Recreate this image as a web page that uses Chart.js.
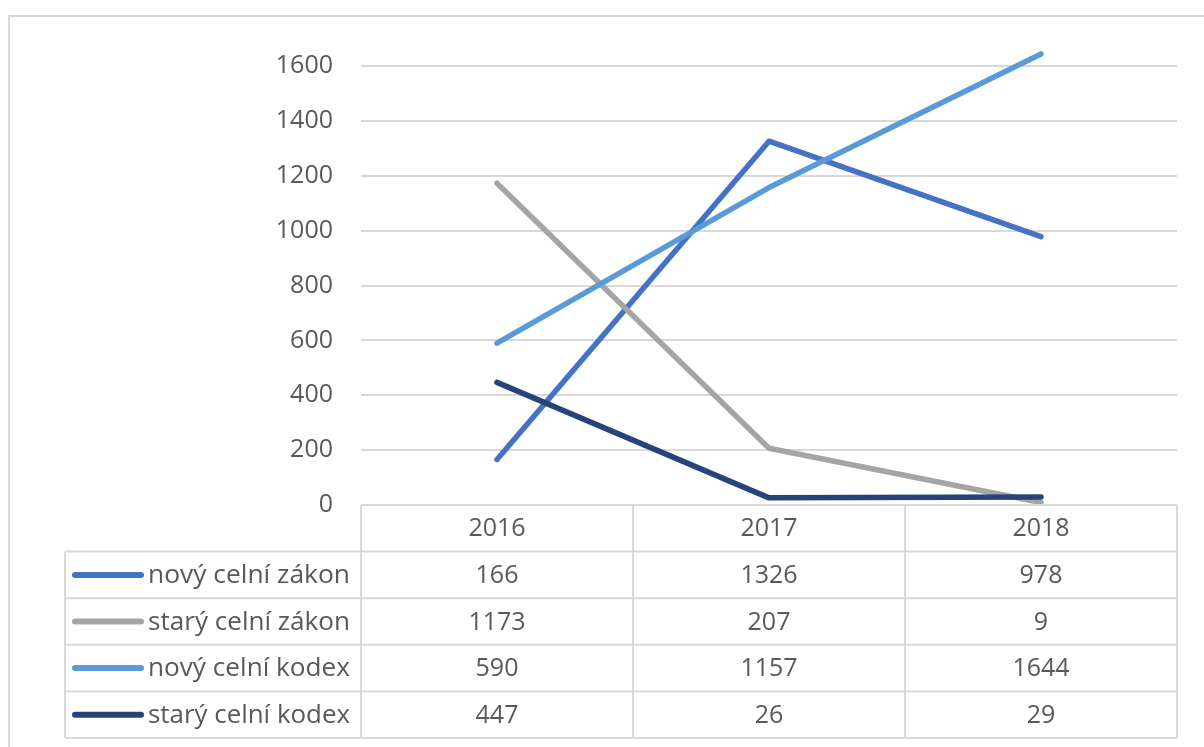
<!DOCTYPE html>
<html><head><meta charset="utf-8">
<script src="https://cdn.jsdelivr.net/npm/chart.js@4/dist/chart.umd.min.js"></script>
<style>html,body{margin:0;padding:0;background:#fff}#wrap{width:1204px;height:747px;position:relative}</style>
</head><body><div id="wrap"><canvas id="c" width="1204" height="747"></canvas></div>
<script>
const categories = ['2016', '2017', '2018'];
const seriesNames = ['nový celní zákon', 'starý celní zákon', 'nový celní kodex', 'starý celní kodex'];
const novyZakon = [166, 1326, 978];
const staryZakon = [1173, 207, 9];
const novyKodex = [590, 1157, 1644];
const staryKodex = [447, 26, 29];
const seriesValues = [novyZakon, staryZakon, novyKodex, staryKodex];
const seriesColors = ['#4472C4', '#A5A5A5', '#5B9BD5', '#264478'];
const yTicks = [0, 200, 400, 600, 800, 1000, 1200, 1400, 1600];

const FONT = '"Open Sans", sans-serif';
const TXT = '#595959';
const LINE = '#d9d9d9';

const tablePlugin = {
  id: 'dataTable',
  beforeDraw(chart) {
    const ctx = chart.ctx;
    ctx.save();
    ctx.strokeStyle = LINE; ctx.lineWidth = 2;
    ctx.beginPath();
    ctx.moveTo(9, 747); ctx.lineTo(9, 16); ctx.lineTo(1204, 16);
    ctx.stroke();
    ctx.restore();
  },
  afterDraw(chart) {
    const ctx = chart.ctx;
    const xs = chart.scales.x;
    const area = chart.chartArea;
    const n = categories.length;
    const colW = (area.right - area.left) / n;
    const top = area.bottom;
    const rowH = 46.6;
    const tableLeft = 65;
    ctx.save();
    ctx.strokeStyle = LINE; ctx.lineWidth = 2;
    ctx.beginPath();
    ctx.moveTo(area.left, top); ctx.lineTo(area.right, top);
    for (let r = 1; r <= seriesNames.length + 1; r++) {
      const y = top + r * rowH;
      ctx.moveTo(tableLeft, y); ctx.lineTo(area.right, y);
    }
    const bottom = top + (seriesNames.length + 1) * rowH;
    for (let i = 0; i <= n; i++) {
      const x = area.left + i * colW;
      ctx.moveTo(x, top); ctx.lineTo(x, bottom);
    }
    ctx.moveTo(tableLeft, top + rowH); ctx.lineTo(tableLeft, bottom);
    ctx.stroke();

    ctx.fillStyle = TXT;
    ctx.textAlign = 'center'; ctx.textBaseline = 'middle';
    ctx.font = '25px ' + FONT;
    categories.forEach((c, i) => {
      ctx.fillText(c, xs.getPixelForValue(i), top + rowH / 2 + 1);
    });
    seriesNames.forEach((name, s) => {
      const cy = top + (s + 1) * rowH + rowH / 2 + 1;
      ctx.strokeStyle = seriesColors[s]; ctx.lineWidth = 6; ctx.lineCap = 'round';
      ctx.beginPath(); ctx.moveTo(75, cy - 1); ctx.lineTo(141, cy - 1); ctx.stroke();
      ctx.textAlign = 'left';
      ctx.font = '25px ' + FONT;
      const w = ctx.measureText(name).width;
      const target = 202;
      ctx.save();
      ctx.translate(148, cy);
      ctx.scale(target / w, 1);
      ctx.fillText(name, 0, 0);
      ctx.restore();
      ctx.textAlign = 'center';
      seriesValues[s].forEach((v, i) => {
        ctx.fillText(String(v), xs.getPixelForValue(i), cy);
      });
    });
    ctx.restore();
  }
};

new Chart(document.getElementById('c'), {
  type: 'line',
  data: {
    labels: categories,
    datasets: seriesNames.map((name, s) => ({
      label: name,
      data: seriesValues[s],
      borderColor: seriesColors[s],
      backgroundColor: seriesColors[s],
      borderWidth: 5.5,
      borderCapStyle: 'round',
      borderJoinStyle: 'round',
      pointRadius: 0,
      tension: 0,
      clip: false,
      order: 10 - s
    }))
  },
  options: {
    responsive: false,
    animation: false,
    devicePixelRatio: 1,
    layout: { padding: { top: 66, right: 27, left: 0, bottom: 0 } },
    plugins: { legend: { display: false }, tooltip: { enabled: false } },
    scales: {
      x: {
        type: 'category',
        offset: true,
        grid: { display: false, drawTicks: false },
        border: { display: false },
        ticks: { display: false },
        afterFit(scale) { scale.height = 747 - 505; }
      },
      y: {
        min: 0, max: 1600,
        afterBuildTicks(scale) { scale.ticks = yTicks.map(v => ({ value: v })); },
        grid: { color: LINE, lineWidth: 2, drawTicks: false },
        border: { display: false },
        ticks: { color: TXT, font: { family: '"Open Sans", sans-serif', size: 25 }, padding: 28,
          callback: (v) => String(v) },
        afterFit(scale) { scale.width = 361; }
      }
    }
  },
  plugins: [tablePlugin]
});
</script>
</body></html>
